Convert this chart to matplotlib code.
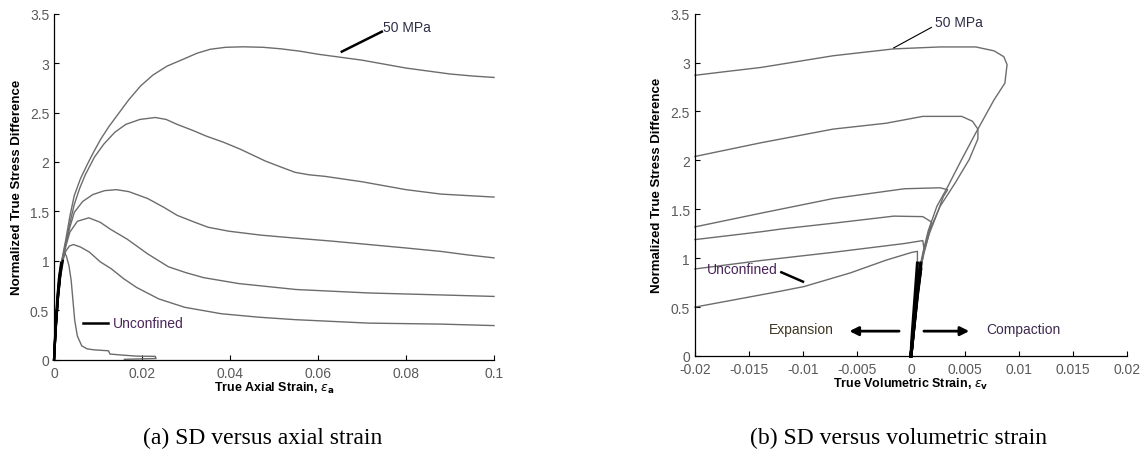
import matplotlib
matplotlib.use("Agg")
import matplotlib.pyplot as plt
import numpy as np

plt.rcParams["font.family"] = ["Liberation Sans", "DejaVu Sans"]
plt.rcParams["axes.unicode_minus"] = False

# (a) normalized true stress difference vs true axial strain
axial_50 = ([0, 0.0004, 0.0009, 0.0014, 0.002, 0.0027, 0.0036, 0.0046, 0.006, 0.0075,
             0.009, 0.0106, 0.0125, 0.0145, 0.017, 0.0197, 0.0225, 0.0257, 0.0294, 0.0325,
             0.0355, 0.039, 0.043, 0.0475, 0.0515, 0.056, 0.06, 0.065, 0.07, 0.075,
             0.08, 0.085, 0.09, 0.095, 0.1],
            [0, 0.35, 0.68, 0.9, 1.06, 1.22, 1.45, 1.66, 1.83, 1.97,
             2.1, 2.23, 2.36, 2.48, 2.63, 2.77, 2.88, 2.97, 3.04, 3.1,
             3.14, 3.16, 3.165, 3.16, 3.145, 3.12, 3.09, 3.06, 3.03, 2.99,
             2.95, 2.92, 2.89, 2.87, 2.855])
axial_c2 = ([0, 0.0004, 0.0009, 0.0014, 0.002, 0.0027, 0.0036, 0.0046, 0.0058, 0.0071,
             0.0092, 0.0113, 0.0138, 0.0163, 0.0195, 0.023, 0.0255, 0.028, 0.0315, 0.0347,
             0.0385, 0.0423, 0.048, 0.0515, 0.0548, 0.058, 0.0615, 0.07, 0.08, 0.088, 0.1],
            [0, 0.34, 0.66, 0.88, 1.04, 1.19, 1.38, 1.57, 1.73, 1.87,
             2.05, 2.18, 2.30, 2.38, 2.43, 2.45, 2.43, 2.38, 2.32, 2.26,
             2.2, 2.13, 2.01, 1.95, 1.895, 1.87, 1.855, 1.80, 1.72, 1.675, 1.645])
axial_c3 = ([0, 0.0004, 0.0009, 0.0014, 0.002, 0.0027, 0.0036, 0.0046, 0.0065, 0.0088,
             0.0115, 0.0142, 0.017, 0.0213, 0.025, 0.028, 0.032, 0.035, 0.0397, 0.047,
             0.0548, 0.063, 0.0715, 0.08, 0.088, 0.094, 0.1],
            [0, 0.33, 0.64, 0.86, 1.03, 1.17, 1.34, 1.49, 1.6, 1.67,
             1.71, 1.72, 1.70, 1.63, 1.54, 1.46, 1.39, 1.34, 1.30, 1.26,
             1.23, 1.2, 1.165, 1.13, 1.095, 1.06, 1.03])
axial_c4 = ([0, 0.0004, 0.0009, 0.0014, 0.002, 0.0027, 0.0036, 0.0053, 0.0079, 0.0105,
             0.0128, 0.0166, 0.0213, 0.026, 0.030, 0.034, 0.042, 0.055, 0.0715, 0.088, 0.1],
            [0, 0.32, 0.63, 0.85, 1.02, 1.15, 1.29, 1.40, 1.435, 1.39,
             1.32, 1.22, 1.07, 0.94, 0.88, 0.83, 0.77, 0.71, 0.675, 0.655, 0.64])
axial_c5 = ([0, 0.0004, 0.0009, 0.0014, 0.002, 0.0027, 0.0035, 0.0044, 0.006, 0.008,
             0.0105, 0.013, 0.0158, 0.0188, 0.0238, 0.0297, 0.038, 0.0465, 0.0548, 0.0715,
             0.088, 0.1],
            [0, 0.31, 0.62, 0.84, 1.0, 1.1, 1.15, 1.165, 1.14, 1.09,
             0.99, 0.92, 0.82, 0.73, 0.615, 0.53, 0.465, 0.43, 0.405, 0.37,
             0.36, 0.345])
axial_unc = ([0, 0.0003, 0.0007, 0.0011, 0.0016, 0.0021, 0.0024, 0.0028, 0.0034, 0.0039,
              0.0043, 0.0047, 0.0053, 0.0063, 0.0075, 0.009, 0.0124, 0.0127, 0.016, 0.0188,
              0.023, 0.0232, 0.0195, 0.016],
             [0, 0.3, 0.6, 0.82, 0.98, 1.06, 1.08, 1.05, 0.95, 0.8,
              0.6, 0.4, 0.24, 0.14, 0.11, 0.1, 0.09, 0.057, 0.045, 0.036,
              0.034, 0.012, 0.008, 0.004])

# (b) normalized true stress difference vs true volumetric strain
vol_50 = ([0, 0.0003, 0.0006, 0.0009, 0.0012, 0.0016, 0.0024, 0.0034, 0.0047, 0.006,
           0.0077, 0.0087, 0.0089, 0.0086, 0.0077, 0.006, 0.0027, -0.0016, -0.0072, -0.0139,
           -0.017, -0.02],
          [0, 0.35, 0.7, 0.95, 1.1, 1.28, 1.53, 1.73, 2.01, 2.28,
           2.62, 2.79, 2.98, 3.06, 3.12, 3.16, 3.16, 3.14, 3.07, 2.95,
           2.91, 2.87])
vol_c2 = ([0, 0.0003, 0.0006, 0.0009, 0.0012, 0.0016, 0.0027, 0.0041, 0.0054, 0.0062,
           0.0062, 0.0057, 0.0047, 0.0011, -0.0023, -0.0072, -0.0139, -0.02],
          [0, 0.34, 0.68, 0.93, 1.08, 1.25, 1.53, 1.77, 2.01, 2.22,
           2.32, 2.40, 2.45, 2.45, 2.38, 2.32, 2.18, 2.04])
vol_c3 = ([0, 0.0003, 0.0006, 0.0009, 0.0012, 0.0017, 0.0024, 0.003, 0.0034, 0.0027,
           -0.0006, -0.0072, -0.0139, -0.02],
          [0, 0.33, 0.66, 0.91, 1.06, 1.25, 1.45, 1.63, 1.70, 1.72,
           1.71, 1.61, 1.46, 1.32])
vol_c4 = ([0, 0.0003, 0.0006, 0.0009, 0.0012, 0.0016, 0.0019, 0.0011, -0.0016, -0.007,
           -0.0119, -0.0139, -0.02],
          [0, 0.32, 0.64, 0.89, 1.05, 1.22, 1.37, 1.425, 1.43, 1.36,
           1.30, 1.27, 1.19])
vol_c5 = ([0, 0.0003, 0.0006, 0.0009, 0.0011, 0.0012, 0.0011, -0.0006, -0.0072, -0.0139, -0.02],
          [0, 0.31, 0.62, 0.88, 1.02, 1.1, 1.18, 1.15, 1.06, 0.976, 0.89])
vol_unc = ([0, 0.0001, 0.0002, 0.0004, 0.0006, 0.0006, 0.0001, -0.0023, -0.0056, -0.0099,
            -0.0122, -0.0156, -0.02],
           [0, 0.2, 0.35, 0.65, 0.95, 1.07, 1.06, 0.98, 0.85, 0.71,
            0.66, 0.59, 0.50])

y_ticks = [0, 0.5, 1, 1.5, 2, 2.5, 3, 3.5]
y_ticklabels = ["0", "0.5", "1", "1.5", "2", "2.5", "3", "3.5"]
a_xticks = [0, 0.02, 0.04, 0.06, 0.08, 0.1]
a_xticklabels = ["0", "0.02", "0.04", "0.06", "0.08", "0.1"]
b_xticks = [-0.02, -0.015, -0.01, -0.005, 0, 0.005, 0.01, 0.015, 0.02]
b_xticklabels = ["-0.02", "-0.015", "-0.01", "-0.005", "0", "0.005", "0.01", "0.015", "0.02"]

CURVE = "#6c6c6c"
TICK_TXT = "#5a5a5a"


def style_axes(ax, xlim, xticks, xticklabels, xlabel):
    ax.set_xlim(*xlim)
    ax.set_ylim(0, 3.5)
    for side in ("top", "right"):
        ax.spines[side].set_visible(False)
    for side in ("left", "bottom"):
        ax.spines[side].set_linewidth(0.9)
    ax.set_xticks(xticks)
    ax.set_xticklabels(xticklabels)
    ax.set_yticks(y_ticks)
    ax.set_yticklabels(y_ticklabels)
    ax.tick_params(direction="in", length=3.6, width=0.8, labelsize=10,
                   labelcolor=TICK_TXT, top=False, right=False)
    ax.tick_params(axis="x", pad=4.5)
    ax.tick_params(axis="y", pad=3.5)
    ax.set_xlabel(xlabel, fontsize=9, fontweight="bold")
    ax.set_ylabel("Normalized True Stress Difference", fontsize=9.5, fontweight="bold")


def draw_curves(ax, curves, bundle_lw):
    for x, y in curves:
        ax.plot(np.asarray(x), np.asarray(y), color=CURVE, lw=1.0, clip_on=False)
    # the overlapping initial loading branches render almost black
    for x, y in curves:
        x = np.asarray(x)
        y = np.asarray(y)
        m = np.maximum.accumulate(y) <= 1.0
        ax.plot(x[m], y[m], color="black", lw=bundle_lw, clip_on=False)


fig = plt.figure(figsize=(11.47, 4.52), dpi=100)
ax_a = fig.add_axes([0.0471, 0.2020, 0.3836, 0.7655])
ax_b = fig.add_axes([0.6059, 0.2102, 0.3766, 0.7573])

# ---- panel (a)
draw_curves(ax_a, [axial_50, axial_c2, axial_c3, axial_c4, axial_c5, axial_unc], 1.6)
style_axes(ax_a, (0, 0.1), a_xticks, a_xticklabels, r"True Axial Strain, $\epsilon_\mathbf{a}$")
ax_a.plot([0.0654, 0.0745], [3.116, 3.318], color="black", lw=1.8)
ax_a.text(0.0747, 3.365, "50 MPa", fontsize=10, color="#2e2e48", va="center", ha="left")
ax_a.plot([0.0065, 0.0123], [0.371, 0.371], color="black", lw=1.8)
ax_a.text(0.0133, 0.371, "Unconfined", fontsize=10, color="#4a2458", va="center", ha="left")
ax_a.xaxis.set_label_coords(0.5, -0.058)
ax_a.yaxis.set_label_coords(-0.071, 0.5)

# ---- panel (b)
draw_curves(ax_b, [vol_50, vol_c2, vol_c3, vol_c4, vol_c5, vol_unc], 2.2)
style_axes(ax_b, (-0.02, 0.02), b_xticks, b_xticklabels, r"True Volumetric Strain, $\epsilon_\mathbf{v}$")
ax_b.plot([-0.0016, 0.0019], [3.15, 3.36], color="black", lw=0.8)
ax_b.text(0.0022, 3.41, "50 MPa", fontsize=10, color="#2e2e48", va="center", ha="left")
ax_b.plot([-0.0120, -0.0100], [0.856, 0.76], color="black", lw=1.8)
ax_b.text(-0.0189, 0.89, "Unconfined", fontsize=10, color="#4a2458", va="center", ha="left")
ax_b.text(-0.0132, 0.28, "Expansion", fontsize=10, color="#3d3622", va="center", ha="left")
ax_b.text(0.0070, 0.28, "Compaction", fontsize=10, color="#3e2a50", va="center", ha="left")
arrow = dict(arrowstyle="-|>", lw=2.0, color="black", mutation_scale=13, shrinkA=0, shrinkB=0)
ax_b.annotate("", xy=(-0.0057, 0.254), xytext=(-0.0011, 0.254), arrowprops=arrow)
ax_b.annotate("", xy=(0.0054, 0.254), xytext=(0.0012, 0.254), arrowprops=arrow)
ax_b.xaxis.set_label_coords(0.5, -0.058)
ax_b.yaxis.set_label_coords(-0.074, 0.5)

# captions
fig.text(263 / 1147, 0.031, "(a) SD versus axial strain", fontsize=17,
         family=["Liberation Serif", "DejaVu Serif"], ha="center", va="center")
fig.text(899 / 1147, 0.031, "(b) SD versus volumetric strain", fontsize=17,
         family=["Liberation Serif", "DejaVu Serif"], ha="center", va="center")

fig.savefig("out.png", dpi=100)
